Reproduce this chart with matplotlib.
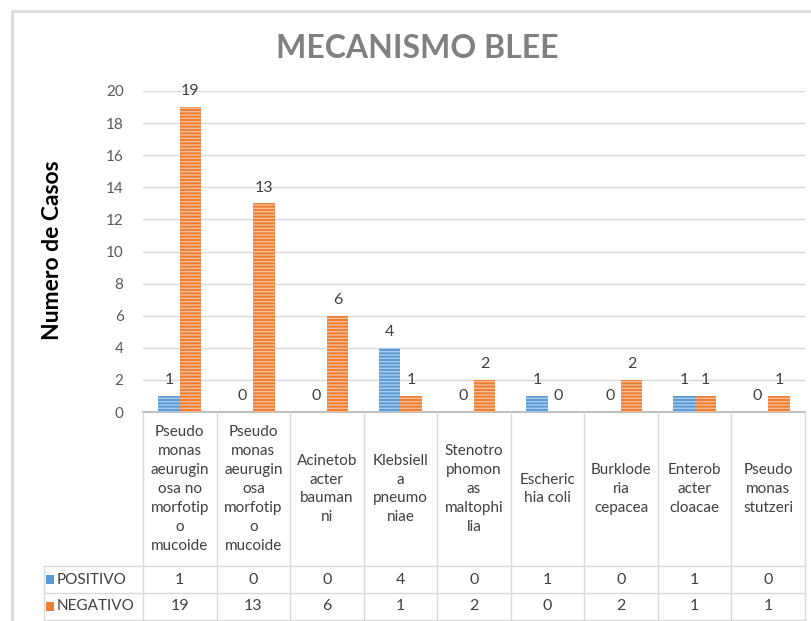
import numpy as np
import matplotlib
matplotlib.use("Agg")
import matplotlib.pyplot as plt
import matplotlib.transforms as mtransforms
from matplotlib.patches import Rectangle
from matplotlib.lines import Line2D

plt.rcParams['font.family'] = ['Lato', 'DejaVu Sans']
plt.rcParams['hatch.linewidth'] = 1.0

# Data
categories = [
    "Pseudo\nmonas\naeurugin\nosa no\nmorfotip\no\nmucoide",
    "Pseudo\nmonas\naeurugin\nosa\nmorfotip\no\nmucoide",
    "Acinetob\nacter\nbauman\nni",
    "Klebsiell\na\npneumo\nniae",
    "Stenotro\nphomon\nas\nmaltophi\nlia",
    "Escheric\nhia coli",
    "Burklode\nria\ncepacea",
    "Enterob\nacter\ncloacae",
    "Pseudo\nmonas\nstutzeri",
]
positivo = [1, 0, 0, 4, 0, 1, 0, 1, 0]
negativo = [19, 13, 6, 1, 2, 0, 2, 1, 1]
series_names = ["POSITIVO", "NEGATIVO"]
yticks = [0, 2, 4, 6, 8, 10, 12, 14, 16, 18, 20]

W, H = 812, 621
fig = plt.figure(figsize=(W / 100, H / 100), dpi=100)


def fy(py):
    # pixel row -> figure fraction
    return 1 - py / H


def fx(px):
    return px / W


ax = fig.add_axes([fx(143), fy(412), fx(805) - fx(143), fy(91) - fy(412)])

blue, blue_l = "#5B9BD5", "#A9CBEA"
orange, orange_l = "#ED7D31", "#F7BD96"
text_c = "#404040"

x = np.arange(len(categories))
bw = 0.29
for vals, off, fc, hc in [(positivo, -bw / 2, blue, blue_l), (negativo, bw / 2, orange, orange_l)]:
    ax.bar(x + off, vals, bw, color=fc, edgecolor=hc, linewidth=0, hatch="-----", zorder=3)
    for xi, v in zip(x + off, vals):
        ax.text(xi, v + 0.55, str(v), ha="center", va="bottom", fontsize=11.5, color=text_c, zorder=4)

ax.set_xlim(-0.5, len(categories) - 0.5)
ax.set_ylim(0, 20)
ax.set_yticks(yticks)
ax.set_xticks([])
ax.tick_params(axis="y", length=0, pad=14, labelsize=11, labelcolor="#595959")
ax.grid(axis="y", color="#D9D9D9", linewidth=1, zorder=0)
for s in ["top", "right", "left"]:
    ax.spines[s].set_visible(False)
ax.spines["bottom"].set_color("#BFBFBF")
ax.spines["bottom"].set_linewidth(1.5)

fig.text(fx(53), fy(250), "Numero de Casos", rotation=90, ha="center", va="center",
         fontsize=16.5, fontweight="bold", color="black")
fig.text(fx(417), fy(48), "MECANISMO BLEE", ha="center", va="center",
         fontsize=23, fontweight="bold", color="#808080")

# Data table below the axis
trans = mtransforms.blended_transform_factory(ax.transData, fig.transFigure)
line_c = "#D9D9D9"
row_y = [412, 566, 593, 620]
for b in np.arange(-0.5, len(categories), 1.0):
    fig.add_artist(Line2D([b, b], [fy(412), fy(620)], transform=trans, color=line_c, lw=1))
for py in row_y[1:]:
    fig.add_artist(Line2D([fx(44), fx(805)], [fy(py), fy(py)], transform=fig.transFigure, color=line_c, lw=1))
fig.add_artist(Line2D([fx(44), fx(44)], [fy(566), fy(620)], transform=fig.transFigure, color=line_c, lw=1))

for xi, lab in zip(x, categories):
    fig.text(xi, fy(489), lab, transform=trans, ha="center", va="center",
             fontsize=11, color=text_c, linespacing=1.45)
for r, (vals, c) in enumerate([(positivo, blue), (negativo, orange)]):
    yc = fy((row_y[r + 1] + row_y[r + 2]) / 2)
    for xi, v in zip(x, vals):
        fig.text(xi, yc, str(v), transform=trans, ha="center", va="center", fontsize=11.5, color=text_c)
    fig.add_artist(Rectangle((fx(46), yc - 4.5 / H), 8 / W, 9 / H, transform=fig.transFigure,
                             facecolor=c, edgecolor="none"))
    fig.text(fx(57), yc, series_names[r], ha="left", va="center", fontsize=11, color=text_c)

# chart frame
fig.add_artist(Line2D([fx(12), fx(12), 1], [0, fy(11), fy(11)], transform=fig.transFigure,
                      color="#D9D9D9", lw=2))

fig.savefig("out.png", dpi=100)
